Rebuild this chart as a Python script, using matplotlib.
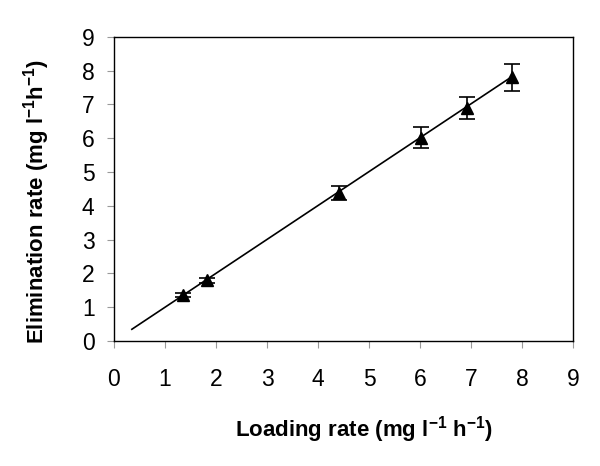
import matplotlib

matplotlib.use("Agg")
import matplotlib.pyplot as plt

# measured points (loading rate vs elimination rate, mg l-1 h-1)
loading = [1.35, 1.82, 4.42, 6.02, 6.92, 7.80]
elimination = [1.36, 1.80, 4.38, 6.02, 6.90, 7.80]
error = [0.07, 0.08, 0.21, 0.31, 0.33, 0.40]

# fitted line end points
fit_x = [0.35, 7.80]
fit_y = [0.35, 7.82]

ticks = list(range(10))

plt.rcParams["font.family"] = ["Liberation Sans", "DejaVu Sans"]
plt.rcParams["mathtext.fontset"] = "custom"
plt.rcParams["mathtext.rm"] = "Liberation Sans:bold"
plt.rcParams["mathtext.it"] = "Liberation Sans:bold"
plt.rcParams["mathtext.bf"] = "Liberation Sans:bold"

fig = plt.figure(figsize=(6.0, 4.66), dpi=100)
ax = fig.add_axes([0.19, 0.268, 0.765, 0.653])

ax.plot(fit_x, fit_y, color="black", lw=1.2, zorder=2)
ax.errorbar(loading, elimination, yerr=error, fmt="^", color="black",
            markersize=8.5, capsize=6, elinewidth=1.2, capthick=1.2, zorder=3)

ax.set_xlim(0, 9)
ax.set_ylim(0, 9)
ax.set_xticks(ticks)
ax.set_yticks(ticks)
ax.tick_params(axis="both", direction="out", length=5, width=0.8, color="#999999",
               labelsize=16.5)
ax.tick_params(axis="x", pad=14)
ax.tick_params(axis="y", pad=9)
for spine in ax.spines.values():
    spine.set_linewidth(1.0)

ax.set_xlabel(r"Loading rate (mg l$^{-1}$ h$^{-1}$)", fontsize=16, fontweight="bold")
ax.set_ylabel(r"Elimination rate (mg l$^{-1}$h$^{-1}$)", fontsize=16, fontweight="bold")
ax.xaxis.set_label_coords(0.545, -0.24)
ax.yaxis.set_label_coords(-0.135, 0.46)

fig.savefig("out.png", dpi=100)
